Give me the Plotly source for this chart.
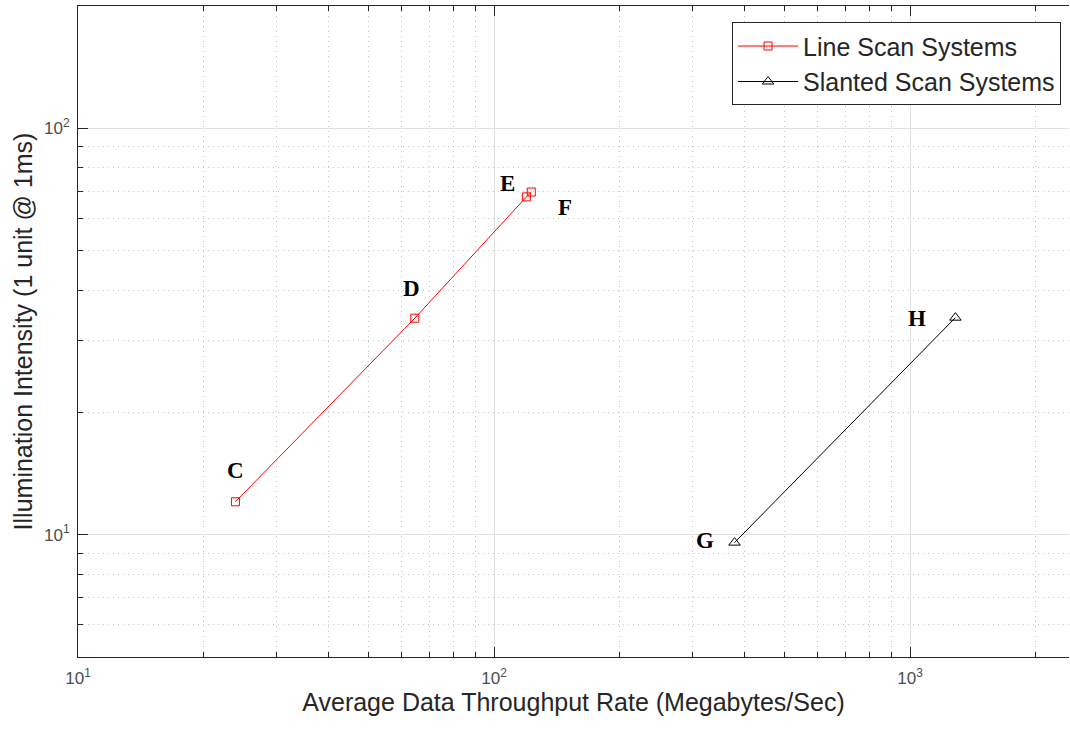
import plotly.graph_objects as go
import numpy as np

# Data
line_scan_x = [23.9, 64.5, 119.6, 122.9]
line_scan_y = [12.05, 34.1, 67.8, 69.7]
slanted_x = [378.5, 1285]
slanted_y = [9.56, 34.2]

point_labels = ["C", "D", "E", "F", "G", "H"]
label_x = [23.95, 63.4, 107.5, 147.8, 322.3, 1038]
label_y = [14.35, 40.4, 73.0, 63.8, 9.70, 34.1]

x_major = [10, 100, 1000]
x_major_text = ["10<sup>1</sup>", "10<sup>2</sup>", "10<sup>3</sup>"]
y_major = [10, 100]
y_major_text = ["10<sup>1</sup>", "10<sup>2</sup>"]
x_minor = [20, 30, 40, 50, 60, 70, 80, 90, 200, 300, 400, 500, 600, 700, 800, 900, 2000]
y_minor = [6, 7, 8, 9, 20, 30, 40, 50, 60, 70, 80, 90]

FONT = "Liberation Sans, Arial, Helvetica, sans-serif"

fig = go.Figure()
fig.add_trace(go.Scatter(
    x=line_scan_x, y=line_scan_y, mode="lines+markers", name="Line Scan Systems",
    line=dict(color="#ff0000", width=1),
    marker=dict(symbol="square-open", size=8, color="#ff0000", line=dict(width=1)),
))
fig.add_trace(go.Scatter(
    x=slanted_x, y=slanted_y, mode="lines+markers", name="Slanted Scan Systems",
    line=dict(color="#000000", width=1),
    marker=dict(symbol="triangle-up-open", size=10, color="#000000", line=dict(width=1)),
))

for t, lx, ly in zip(point_labels, label_x, label_y):
    fig.add_annotation(x=np.log10(lx), y=np.log10(ly), text="<b>%s</b>" % t, showarrow=False,
                       font=dict(family="Liberation Serif, Times New Roman, serif", size=23, color="black"),
                       xanchor="center", yanchor="middle")

axis_common = dict(
    type="log", showline=True, linecolor="#262626", linewidth=1,
    ticks="inside", ticklen=10, tickcolor="#262626", tickwidth=1,
    showgrid=True, gridcolor="#e0e0e0", gridwidth=1, zeroline=False,
    tickmode="array",
    tickfont=dict(family=FONT, size=17, color="#4d4d4d"),
)
minor_common = dict(tickmode="array", ticks="inside", ticklen=5, tickcolor="#262626",
                    showgrid=True, gridcolor="#c4c4c4", griddash="1px,4px", gridwidth=1)

fig.update_xaxes(
    **axis_common,
    mirror="ticks",
    range=[1, np.log10(2410)],
    tickvals=x_major, ticktext=x_major_text,
    ticklabelstandoff=6,
    minor=dict(tickvals=x_minor, **minor_common),
    title=dict(text="Average Data Throughput Rate (Megabytes/Sec)", standoff=6,
               font=dict(family=FONT, size=25, color="#262626")),
)
fig.update_yaxes(
    **axis_common,
    mirror=False,
    range=[np.log10(5), np.log10(200)],
    tickvals=y_major, ticktext=y_major_text,
    ticklabelstandoff=4,
    minor=dict(tickvals=y_minor, **minor_common),
    title=dict(text="Illumination Intensity (1 unit @ 1ms)", standoff=4,
               font=dict(family=FONT, size=25, color="#262626")),
)

fig.update_layout(
    width=1070, height=729,
    margin=dict(l=78, r=1, t=6, b=72),
    paper_bgcolor="white", plot_bgcolor="white",
    showlegend=True,
    legend=dict(x=0.992, y=0.975, xanchor="right", yanchor="top",
                bgcolor="white", bordercolor="#262626", borderwidth=1,
                font=dict(family=FONT, size=25, color="#262626"),
                itemwidth=60, tracegroupgap=0),
)

fig.write_html("out.html")
